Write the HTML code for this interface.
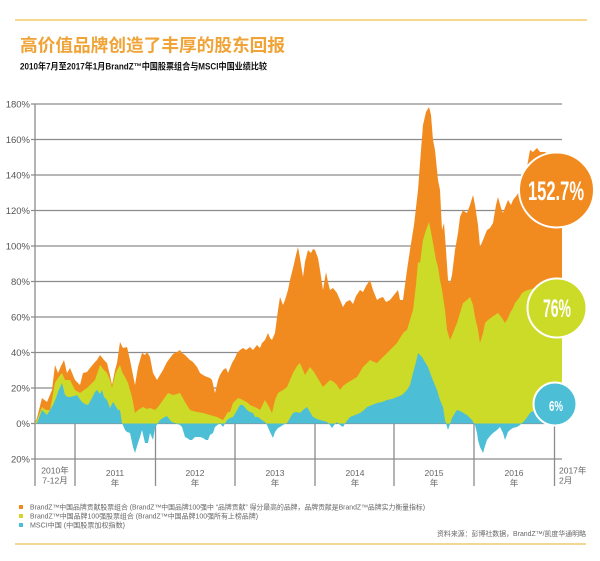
<!DOCTYPE html>
<html><head><meta charset="utf-8"><style>
html,body{margin:0;padding:0;background:#fff;}
svg{display:block;}
text{font-family:"Liberation Sans","Noto Sans CJK SC",sans-serif;}
</style></head><body>
<svg width="600" height="561" viewBox="0 0 600 561" xmlns="http://www.w3.org/2000/svg">
<rect width="600" height="561" fill="#fff"/>
<line x1="15" y1="20" x2="587" y2="20" stroke="#F3CC6A" stroke-width="1.6"/>
<text x="20" y="51.5" font-size="17.5" font-weight="bold" fill="#F0A336" textLength="265" lengthAdjust="spacingAndGlyphs">高价值品牌创造了丰厚的股东回报</text>
<text x="20" y="69.5" font-size="9" font-weight="bold" fill="#111" textLength="247" lengthAdjust="spacingAndGlyphs">2010年7月至2017年1月BrandZ™中国股票组合与MSCI中国业绩比较</text>

<g stroke="#8c8c8c" stroke-width="1.3">
<line x1="31" y1="104" x2="562" y2="104"/>
<line x1="31" y1="139.5" x2="562" y2="139.5"/>
<line x1="31" y1="175" x2="562" y2="175"/>
<line x1="31" y1="210.5" x2="562" y2="210.5"/>
<line x1="31" y1="246" x2="562" y2="246"/>
<line x1="31" y1="281.5" x2="562" y2="281.5"/>
<line x1="31" y1="317" x2="562" y2="317"/>
<line x1="31" y1="352.5" x2="562" y2="352.5"/>
<line x1="31" y1="388" x2="562" y2="388"/>
<line x1="31" y1="423.5" x2="562" y2="423.5"/>
<line x1="31" y1="459" x2="562" y2="459"/>
<line x1="35" y1="104" x2="35" y2="486"/>
<line x1="75" y1="423.5" x2="75" y2="486"/>
<line x1="155.5" y1="423.5" x2="155.5" y2="486"/>
<line x1="235" y1="423.5" x2="235" y2="486"/>
<line x1="315" y1="423.5" x2="315" y2="486"/>
<line x1="394" y1="423.5" x2="394" y2="486"/>
<line x1="474" y1="423.5" x2="474" y2="486"/>
<line x1="554.5" y1="423.5" x2="554.5" y2="486"/>
</g>
<g font-size="9.5" fill="#555" text-anchor="end">
<text x="30" y="107.5">180%</text>
<text x="30" y="143">160%</text>
<text x="30" y="178.5">140%</text>
<text x="30" y="214">120%</text>
<text x="30" y="249.5">100%</text>
<text x="30" y="285">80%</text>
<text x="30" y="320.5">60%</text>
<text x="30" y="356">40%</text>
<text x="30" y="391.5">20%</text>
<text x="30" y="427">0%</text>
<text x="30" y="462.5">20%</text>
</g>

<!-- orange -->
<polygon fill="#F28B1F" points="35,423.5 35,423 37,418 42,398 47,402 52,390 55,365 58,373 61,366 64,360 67,373 70,368 75,380 80,385 83,373 87,372 90,368 95,362 97,360 100,355 104,360 107,363 110,375 112,385 115,370 117,363 120,342 123,348 127,347 130,360 132,370 135,385 138,367 142,353 145,355 147,352 150,357 153,373 157,380 160,375 163,370 167,362 170,358 173,354 177,352 180,350 182,353 185,355 187,357 190,360 193,362 197,367 200,373 203,375 207,377 210,378 212,380 215,393 218,380 220,375 223,370 226,368 228,373 232,363 235,358 237,353 240,350 243,348 246,350 250,347 253,350 257,345 260,348 262,343 265,340 268,333 270,338 272,340 275,333 278,310 280,297 283,305 285,300 288,290 290,280 293,268 296,255 298,247 300,258 303,277 305,262 308,250 311,253 313,249 315,250 318,258 320,270 323,290 326,272 328,282 330,290 333,288 337,293 340,300 343,307 346,302 350,300 353,304 356,296 360,290 363,292 366,286 370,280 373,290 377,300 380,298 383,297 386,302 390,300 394,295 398,290 400,300 403,300 405,285 407,270 410,250 414,225 418,190 421,150 423,125 426,112 429,107 431,115 433,140 435,150 438,180 440,190 442,230 444,223 446,250 448,280 450,283 452,275 455,250 458,233 460,217 463,210 465,212 467,213 470,205 473,195 475,205 478,225 480,247 483,240 487,230 490,228 493,223 496,205 498,197 501,208 503,213 506,205 508,200 511,205 513,200 517,195 520,190 524,180 527,167 530,150 533,152 537,148 540,152 545,152 550,155 556,155 562,155 562,423.5"/>
<!-- green -->
<polygon fill="#CCDB27" points="35,423.5 37,420 42,407 46,410 50,410 55,383 58,378 62,373 65,380 70,380 75,390 80,393 84,390 87,388 91,384 95,380 100,365 104,370 107,373 110,380 112,388 115,375 117,370 120,365 122,372 125,377 128,383 130,390 132,397 135,413 138,410 143,407 147,409 150,408 155,410 158,407 163,400 168,393 173,395 177,394 180,393 185,402 190,410 193,411 197,412 203,413 210,415 217,417 223,420 228,412 230,412 233,403 238,398 243,400 248,403 250,405 257,408 260,410 265,400 268,405 272,413 275,400 278,393 283,390 287,387 290,380 293,373 297,366 300,363 305,375 310,367 314,372 317,377 320,382 323,387 327,383 330,380 334,382 337,385 340,390 343,386 347,383 352,380 357,377 360,372 363,367 367,363 370,360 374,362 377,363 380,360 383,357 388,352 393,347 397,343 400,338 404,332 407,330 410,320 413,310 416,285 418,262 420,263 423,240 426,230 429,222 431,232 433,243 436,260 438,267 440,280 442,290 445,310 447,330 450,340 453,333 457,323 460,313 463,303 467,300 470,297 473,305 475,317 478,330 480,343 483,333 485,323 488,320 492,317 495,315 498,313 502,318 505,323 508,318 510,313 513,308 515,303 519,298 522,293 525,291 528,290 535,288 545,285 555,283 562,283 562,423.5"/>
<!-- blue -->
<polygon fill="#4CBFD7" points="35,423.5 37,423 42,410 47,415 50,410 53,405 56,398 58,392 62,383 65,395 68,397 70,397 74,396 77,395 82,402 85,404 88,405 92,398 95,392 97,390 100,394 102,390 104,397 107,400 110,408 113,402 115,405 118,410 120,410 122,423 125,430 127,432 130,433 133,447 135,453 138,443 140,437 142,430 145,443 148,443 150,433 153,440 155,428 158,423 160,420 163,418 167,416 170,420 172,422 175,423 180,425 182,427 185,437 187,438 190,440 192,440 195,437 197,437 200,437 203,438 206,440 208,440 210,435 213,433 215,427 220,423 223,427 227,420 230,418 233,417 236,412 240,405 243,405 247,410 250,412 253,413 255,417 258,417 262,420 265,422 267,425 270,432 273,438 275,432 278,428 280,427 283,425 287,423 290,418 293,413 296,412 300,413 303,410 307,407 310,412 313,417 317,419 320,420 324,421 327,422 330,425 332,428 335,424 337,422 340,425 343,427 346,422 350,417 355,415 360,413 364,410 367,407 372,405 377,403 382,402 387,400 392,399 397,397 402,395 407,390 410,385 413,373 416,362 418,353 420,355 422,357 425,362 428,367 432,378 437,390 440,400 443,407 445,420 448,430 450,424 452,418 455,413 457,410 460,411 462,412 465,414 467,415 470,418 472,420 475,425 477,433 478,440 480,447 483,453 485,446 487,440 490,436 493,433 497,430 500,427 503,433 505,440 508,432 510,430 513,428 517,427 520,425 523,422 525,420 528,416 530,413 533,411 537,410 545,410 555,412 562,413 562,423.5"/>

<!-- circles -->
<circle cx="556.5" cy="190" r="37.5" fill="#F28B1F" stroke="#fff" stroke-width="2"/>
<text x="528" y="200" font-size="27" font-weight="bold" fill="#fff" textLength="56" lengthAdjust="spacingAndGlyphs">152.7%</text>
<circle cx="557" cy="308" r="29.5" fill="#CCDB27" stroke="#fff" stroke-width="2"/>
<text x="543" y="317" font-size="25" font-weight="bold" fill="#fff" textLength="28" lengthAdjust="spacingAndGlyphs">76%</text>
<circle cx="555" cy="404" r="21.5" fill="#4CBFD7" stroke="#fff" stroke-width="2"/>
<text x="549" y="411" font-size="15" font-weight="bold" fill="#fff" textLength="14" lengthAdjust="spacingAndGlyphs">6%</text>

<!-- year labels -->
<g font-size="8.5" fill="#666" text-anchor="middle">
<text x="55" y="473.5">2010年</text>
<text x="55" y="483.5">7-12月</text>
<text x="115" y="476">2011</text><text x="115" y="486">年</text>
<text x="195" y="476">2012</text><text x="195" y="486">年</text>
<text x="275" y="476">2013</text><text x="275" y="486">年</text>
<text x="355" y="476">2014</text><text x="355" y="486">年</text>
<text x="434" y="476">2015</text><text x="434" y="486">年</text>
<text x="514" y="476">2016</text><text x="514" y="486">年</text>
</g>
<g font-size="8.5" fill="#666">
<text x="559" y="473.5">2017年</text>
<text x="559" y="483.5">2月</text>
</g>

<!-- legend -->
<rect x="19" y="505" width="4" height="4" fill="#F28B1F"/>
<rect x="19" y="514" width="4" height="4" fill="#D8D624"/>
<rect x="19" y="523" width="4" height="4" fill="#4CBFD7"/>
<g font-size="7" fill="#666">
<text x="30" y="509.5" textLength="395" lengthAdjust="spacingAndGlyphs">BrandZ™中国品牌贡献股票组合 (BrandZ™中国品牌100强中 “品牌贡献” 得分最高的品牌，品牌贡献是BrandZ™品牌实力衡量指标)</text>
<text x="30" y="518.5" textLength="228" lengthAdjust="spacingAndGlyphs">BrandZ™中国品牌100强股票组合 (BrandZ™中国品牌100强所有上榜品牌)</text>
<text x="30" y="527.5" textLength="95" lengthAdjust="spacingAndGlyphs">MSCI中国 (中国股票加权指数)</text>
<text x="437" y="536" textLength="149" lengthAdjust="spacingAndGlyphs">资料来源：彭博社数据，BrandZ™/凯度华通明略</text>
</g>
<line x1="15" y1="544" x2="586" y2="544" stroke="#EBCB6E" stroke-width="1.6"/>
</svg>
</body></html>
